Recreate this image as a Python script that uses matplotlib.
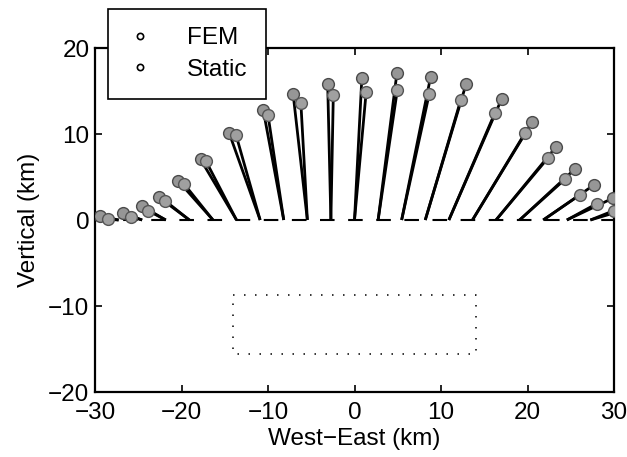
import matplotlib
matplotlib.use("Agg")
import matplotlib.pyplot as plt
from matplotlib.lines import Line2D

# Surface stations (km, West-East) along y = 0
stations = [-30.0, -27.27, -24.55, -21.82, -19.09, -16.36, -13.64, -10.91,
            -8.18, -5.45, -2.73, 0.0, 2.73, 5.45, 8.18, 10.91, 13.64,
            16.36, 19.09, 21.82, 24.55, 27.27, 30.0]

# Displaced positions (tips of the vectors), km
fem_x = [-31.6, -29.4, -26.8, -24.6, -22.6, -20.4, -17.8, -14.5, -10.55, -7.1,
         -3.1, 0.85, 4.9, 8.8, 12.9, 17.0, 20.55, 23.3, 25.5, 27.65, 29.9, 32.6, 35.0]
fem_y = [0.25, 0.47, 0.85, 1.63, 2.64, 4.57, 7.06, 10.15, 12.8, 14.7, 15.8,
         16.5, 17.05, 16.65, 15.8, 14.05, 11.4, 8.5, 5.95, 4.05, 2.55, 1.6, 0.9]
static_x = [-30.9, -28.5, -25.8, -23.85, -21.9, -19.7, -17.2, -13.7, -10.0, -6.2,
            -2.45, 1.35, 4.95, 8.65, 12.3, 16.25, 19.7, 22.4, 24.35, 26.1, 28.0, 30.0, 32.3]
static_y = [0.05, 0.08, 0.38, 1.08, 2.24, 4.19, 6.9, 9.9, 12.2, 13.6, 14.5,
            14.9, 15.1, 14.7, 14.0, 12.5, 10.1, 7.25, 4.75, 2.95, 1.9, 1.1, 0.6]

# Source region outline (dotted rectangle)
src_x = [-14.0, 14.0, 14.0, -14.0, -14.0]
src_y = [-8.7, -8.7, -15.6, -15.6, -8.7]

x_ticks = [-30, -20, -10, 0, 10, 20, 30]
y_ticks = [-20, -10, 0, 10, 20]

plt.rcParams['font.family'] = ['Liberation Sans', 'DejaVu Sans']
plt.rcParams['font.size'] = 17.5

W, H = 627, 457
fig = plt.figure(figsize=(W / 100, H / 100), dpi=100)
ax = fig.add_axes([95 / W, 1 - 392 / H, (614 - 95) / W, (392 - 48) / H])

# Baseline (dashed)
ax.plot([-30, 30], [0, 0], color='black', lw=1.5, linestyle=(0, (7.0, 6.5)), zorder=2)

# Vectors
for i, s in enumerate(stations):
    ax.plot([s, fem_x[i]], [0, fem_y[i]], color='black', lw=2.0, zorder=3,
            solid_capstyle='butt')
    ax.plot([s, static_x[i]], [0, static_y[i]], color='black', lw=2.0, zorder=3,
            solid_capstyle='butt')

ax.plot(fem_x, fem_y, linestyle='none', marker='o', markersize=8.5,
        mfc='#969696', mec='#4a4a4a', mew=1.0, zorder=4)
ax.plot(static_x, static_y, linestyle='none', marker='o', markersize=8.5,
        mfc='#a0a0a0', mec='#555555', mew=1.0, zorder=4)

# Source outline
ax.plot(src_x, src_y, color='black', lw=1.1, linestyle=(0, (1, 6.2)), zorder=2)

ax.set_xlim(-30, 30)
ax.set_ylim(-20, 20)
ax.set_xticks(x_ticks)
ax.set_yticks(y_ticks)
ax.tick_params(direction='in', length=5, width=1.2, top=True, right=True)
ax.tick_params(axis='x', pad=7)
ax.tick_params(axis='y', pad=4)
for sp in ax.spines.values():
    sp.set_linewidth(1.6)
ax.set_xlabel('West\u2212East (km)', labelpad=3)
ax.set_ylabel('Vertical (km)', labelpad=6)

handles = [Line2D([], [], linestyle='none', marker='o', markersize=4.5,
                  mfc='white', mec='black', mew=1.2),
           Line2D([], [], linestyle='none', marker='o', markersize=4.5,
                  mfc='white', mec='black', mew=1.2)]
leg = ax.legend(handles, ['FEM', 'Static'], loc='upper left',
                bbox_to_anchor=(108 / W, 1 - 9 / H), bbox_transform=fig.transFigure,
                fancybox=False, framealpha=1, edgecolor='black', borderpad=0.75,
                handlelength=1.1, handletextpad=1.4, labelspacing=0.4,
                borderaxespad=0)
leg.get_frame().set_linewidth(1.2)
leg.set_zorder(10)

fig.savefig('out.png', dpi=100)
